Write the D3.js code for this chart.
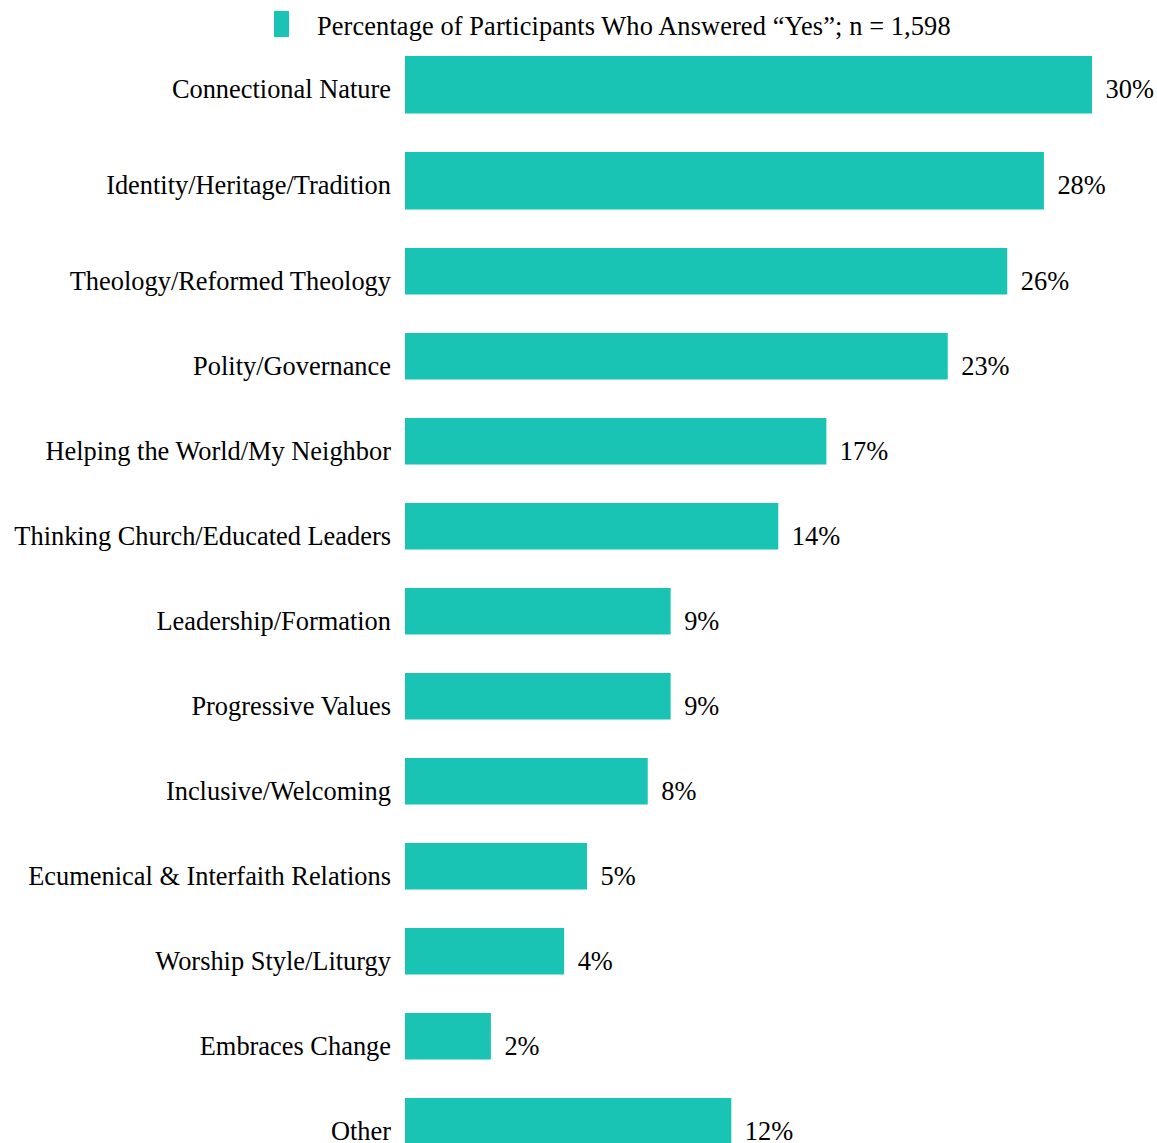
<!DOCTYPE html>
<html>
<head>
<meta charset="utf-8">
<script src="https://cdn.jsdelivr.net/npm/d3@7"></script>
<style>
  html, body { margin: 0; padding: 0; background: #ffffff; }
  svg { display: block; }
  text { font-family: "Liberation Serif", "Times New Roman", serif; fill: #000; }
</style>
</head>
<body>
<svg id="chart" width="1157" height="1143"></svg>
<script>
// ---- data ----
const categories = [
  "Connectional Nature",
  "Identity/Heritage/Tradition",
  "Theology/Reformed Theology",
  "Polity/Governance",
  "Helping the World/My Neighbor",
  "Thinking Church/Educated Leaders",
  "Leadership/Formation",
  "Progressive Values",
  "Inclusive/Welcoming",
  "Ecumenical & Interfaith Relations",
  "Worship Style/Liturgy",
  "Embraces Change",
  "Other"
];
// bar lengths (in % units)
const barValues = [30, 27.9, 26.3, 23.7, 18.4, 16.3, 11.6, 11.6, 10.6, 7.95, 6.95, 3.75, 14.25];
// printed value labels
const valueLabels = ["30%", "28%", "26%", "23%", "17%", "14%", "9%", "9%", "8%", "5%", "4%", "2%", "12%"];
const seriesName = "Percentage of Participants Who Answered \u201CYes\u201D; n = 1,598";

// ---- layout ----
const color = "#19c4b4";
const fontSize = 26.4;
const svg = d3.select("#chart");

const x = d3.scaleLinear().domain([0, 30]).range([405, 1092]);
// row positions: the first two rows sit on a slightly wider pitch than the rest
const yTop = d3.scaleLinear().domain([0, 2, categories.length]).range([56, 248, 1183]);
const gap = 38.5;

const rows = categories.map((c, i) => ({ cat: c, v: barValues[i], lab: valueLabels[i], i }));

const g = svg.append("g");

g.selectAll("rect.bar").data(rows).join("rect")
  .attr("class", "bar")
  .attr("x", x(0))
  .attr("y", d => yTop(d.i))
  .attr("width", d => x(d.v) - x(0))
  .attr("height", d => yTop(d.i + 1) - yTop(d.i) - gap)
  .attr("fill", color);

g.selectAll("text.cat").data(rows).join("text")
  .attr("class", "cat")
  .attr("x", x(0) - 14)
  .attr("y", d => yTop(d.i) + 41.5)
  .attr("text-anchor", "end")
  .style("font-size", fontSize + "px")
  .text(d => d.cat);

g.selectAll("text.val").data(rows).join("text")
  .attr("class", "val")
  .attr("x", d => x(d.v) + 13.5)
  .attr("y", d => yTop(d.i) + 41.5)
  .style("font-size", fontSize + "px")
  .text(d => d.lab);

// ---- legend ----
const legend = svg.append("g");
legend.append("rect")
  .attr("x", 274).attr("y", 11)
  .attr("width", 15).attr("height", 26)
  .attr("fill", color);
legend.append("text")
  .attr("x", 317).attr("y", 34.5)
  .style("font-size", fontSize + "px")
  .style("letter-spacing", "0.1px")
  .text(seriesName);
</script>
</body>
</html>
